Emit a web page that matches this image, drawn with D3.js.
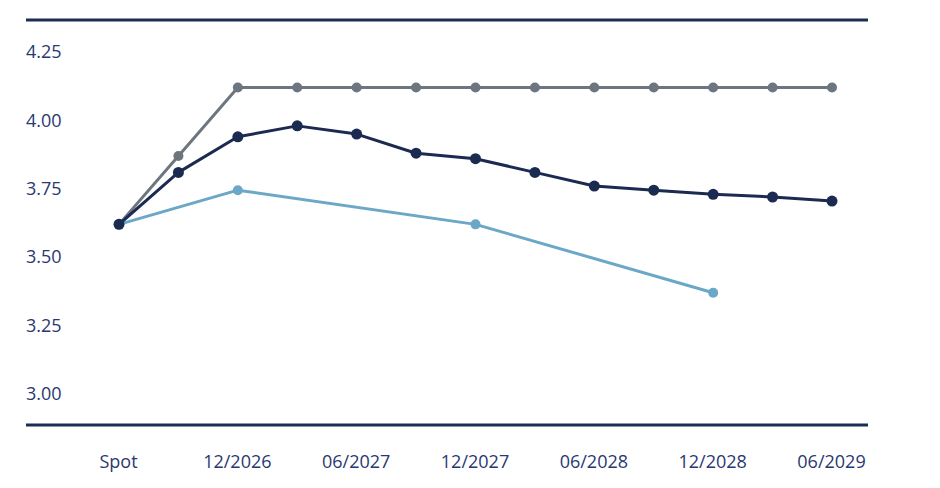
<!DOCTYPE html>
<meta charset="utf-8">
<style>
    body { margin: 0; background: #fff; }
    .axis text {
        font-family: "Open Sans", sans-serif;
        font-size: 18px;
        fill: #2a3872;
    }
    .axis path, .axis line { display: none; }
    .rule { stroke: #1d2c56; stroke-width: 3px; }
    .line { fill: none; stroke-width: 3px; stroke-linejoin: round; }
</style>
<svg width="940" height="488"></svg>
<script src="https://cdn.jsdelivr.net/npm/d3@7"></script>
<script>
    // categories (quarterly), tick labels and series
    var categories = ['Spot', '09/2026', '12/2026', '03/2027', '06/2027', '09/2027', '12/2027',
        '03/2028', '06/2028', '09/2028', '12/2028', '03/2029', '06/2029'];
    var xTickLabels = ['Spot', '12/2026', '06/2027', '12/2027', '06/2028', '12/2028', '06/2029'];
    var yTicks = [3.00, 3.25, 3.50, 3.75, 4.00, 4.25];

    var grey = [3.62, 3.87, 4.12, 4.12, 4.12, 4.12, 4.12, 4.12, 4.12, 4.12, 4.12, 4.12, 4.12];
    var navy = [3.62, 3.81, 3.94, 3.98, 3.95, 3.88, 3.86, 3.81, 3.76, 3.745, 3.73, 3.72, 3.705];
    var lightBlue = [3.62, null, 3.745, null, null, null, 3.62, null, null, null, 3.37, null, null];

    var series = [
        { id: 'lightBlue', values: lightBlue, color: '#6ba7c6', r: 5 },
        { id: 'grey', values: grey, color: '#6d767e', r: 5 },
        { id: 'navy', values: navy, color: '#1b2a50', r: 5.5 }
    ];

    var svgElem = d3.select('svg');
    var margin = { left: 26, right: 868, top: 20, bottom: 425 };

    var x = d3.scalePoint().domain(categories).range([119, 832]);
    var y = d3.scaleLinear().domain([3, 4.25]).range([394, 52]);

    // rules top and bottom
    svgElem.append('line').attr('class', 'rule')
        .attr('x1', margin.left).attr('x2', margin.right)
        .attr('y1', margin.top).attr('y2', margin.top);
    svgElem.append('line').attr('class', 'rule')
        .attr('x1', margin.left).attr('x2', margin.right)
        .attr('y1', margin.bottom).attr('y2', margin.bottom);

    // axes
    svgElem.append('g')
        .attr('class', 'axis')
        .attr('transform', `translate(${margin.left}, 0)`)
        .call(d3.axisRight(y).tickValues(yTicks).tickSize(0).tickPadding(0).tickFormat(d3.format('.2f')));
    svgElem.append('g')
        .attr('class', 'axis')
        .attr('transform', `translate(-1, ${margin.bottom})`)
        .call(d3.axisBottom(x).tickValues(xTickLabels).tickSize(0).tickPadding(30));

    var line = d3.line()
        .x(function (d) { return x(d.cat); })
        .y(function (d) { return y(d.value); });

    var seriesElem = svgElem.selectAll('.series')
        .data(series)
        .enter()
        .append('g')
        .attr('class', 'series');

    seriesElem.each(function (s) {
        var pts = s.values.map(function (v, i) {
            return { cat: categories[i], value: v };
        }).filter(function (d) { return d.value !== null; });
        var g = d3.select(this);
        g.append('path')
            .attr('class', 'line')
            .attr('stroke', s.color)
            .attr('d', line(pts));
        g.selectAll('circle')
            .data(pts)
            .enter()
            .append('circle')
            .attr('cx', function (d) { return x(d.cat); })
            .attr('cy', function (d) { return y(d.value); })
            .attr('r', s.r)
            .attr('fill', s.color);
    });
</script>
